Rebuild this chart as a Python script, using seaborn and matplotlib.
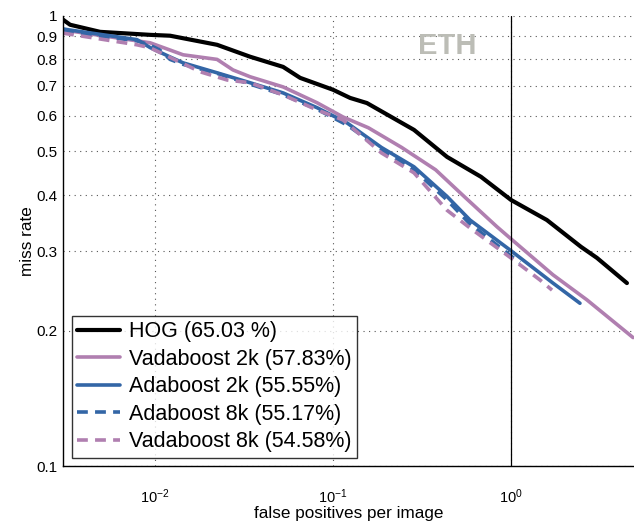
import numpy as np
import pandas as pd
import matplotlib
matplotlib.use('Agg')
import matplotlib.pyplot as plt
import seaborn as sns
from matplotlib.ticker import FixedLocator, FixedFormatter, LogLocator, NullFormatter

# miss rate vs false positives per image
hog_fppi = [0.00304, 0.00333, 0.00491, 0.00937, 0.01214, 0.0223, 0.0342, 0.0524, 0.0653,
            0.100, 0.1247, 0.155, 0.285, 0.437, 0.678, 1.00, 1.59, 2.47, 3.04, 4.48]
hog_miss = [0.98, 0.955, 0.921, 0.907, 0.903, 0.862, 0.811, 0.77, 0.728,
            0.685, 0.657, 0.64, 0.558, 0.486, 0.439, 0.39, 0.352, 0.307, 0.29, 0.255]

vada2_fppi = [0.00304, 0.00937, 0.01437, 0.0223, 0.0274, 0.0342, 0.0524, 0.0813, 0.1138,
              0.158, 0.243, 0.377, 0.545, 0.834, 0.987, 1.72, 2.67, 4.85]
vada2_miss = [0.93, 0.871, 0.819, 0.80, 0.758, 0.732, 0.695, 0.641, 0.596,
              0.564, 0.51, 0.455, 0.397, 0.34, 0.321, 0.266, 0.234, 0.193]

ada2_fppi = [0.00304, 0.00330, 0.00791, 0.00937, 0.01214, 0.01437, 0.0223, 0.0342, 0.0524,
             0.0813, 0.120, 0.187, 0.285, 0.437, 0.588, 0.987, 1.72, 2.44]
ada2_miss = [0.935, 0.93, 0.885, 0.85, 0.81, 0.786, 0.747, 0.71, 0.674,
             0.625, 0.578, 0.51, 0.462, 0.397, 0.352, 0.302, 0.255, 0.23]

ada8_fppi = [0.00304, 0.00330, 0.00791, 0.00937, 0.0106, 0.01214, 0.01437, 0.0223, 0.0342,
             0.0524, 0.0813, 0.120, 0.187, 0.285, 0.437, 0.588, 0.987, 1.12]
ada8_miss = [0.925, 0.92, 0.88, 0.86, 0.84, 0.80, 0.78, 0.745, 0.705,
             0.668, 0.62, 0.572, 0.505, 0.455, 0.39, 0.345, 0.294, 0.283]

vada8_fppi = [0.00304, 0.00791, 0.00937, 0.0179, 0.0254, 0.0342, 0.0524, 0.0813, 0.1138,
              0.187, 0.285, 0.437, 0.588, 0.987, 1.456, 1.70]
vada8_miss = [0.915, 0.862, 0.849, 0.751, 0.72, 0.71, 0.667, 0.618, 0.587,
              0.496, 0.448, 0.37, 0.338, 0.291, 0.259, 0.246]

labels = ['HOG (65.03 %)', 'Vadaboost 2k (57.83%)', 'Adaboost 2k (55.55%)',
          'Adaboost 8k (55.17%)', 'Vadaboost 8k (54.58%)']

black = '#000000'
purple = '#b07fb0'
blue = '#3366a6'

sns.set_style('white')
plt.rcParams['font.family'] = ['Liberation Sans', 'DejaVu Sans']
plt.rcParams['mathtext.fontset'] = 'custom'
plt.rcParams['mathtext.rm'] = 'Liberation Sans'
plt.rcParams['text.color'] = 'black'
plt.rcParams['axes.labelcolor'] = 'black'

fig, ax = plt.subplots(figsize=(6.34, 5.25), dpi=100)
fig.subplots_adjust(left=0.0995, right=1.0, top=0.97, bottom=0.112)

series = [
    (hog_fppi, hog_miss, black, '-', 3.0),
    (vada2_fppi, vada2_miss, purple, '-', 2.6),
    (ada2_fppi, ada2_miss, blue, '-', 2.6),
    (ada8_fppi, ada8_miss, blue, (0, (3, 2)), 2.6),
    (vada8_fppi, vada8_miss, purple, (0, (3, 2)), 2.6),
]
for (xs, ys, c, ls, lw), lab in zip(series, labels):
    df = pd.DataFrame({'fppi': xs, 'miss': ys})
    sns.lineplot(data=df, x='fppi', y='miss', ax=ax, color=c, linestyle=ls,
                 linewidth=lw, label=lab, sort=False, estimator=None)

ax.set_xscale('log')
ax.set_yscale('log')
ax.set_xlim(10 ** -2.517, 10 ** 0.691)
ax.set_ylim(0.1, 1.0)

yt = [0.1, 0.2, 0.3, 0.4, 0.5, 0.6, 0.7, 0.8, 0.9, 1.0]
ax.yaxis.set_major_locator(FixedLocator(yt))
ax.yaxis.set_major_formatter(FixedFormatter(['0.1', '0.2', '0.3', '0.4', '0.5',
                                             '0.6', '0.7', '0.8', '0.9', '1']))
ax.yaxis.set_minor_locator(FixedLocator([]))
ax.xaxis.set_major_locator(LogLocator(base=10))
ax.xaxis.set_minor_locator(LogLocator(base=10, subs=np.arange(2, 10)))
ax.xaxis.set_minor_formatter(NullFormatter())

ax.grid(True, which='major', linestyle=(0, (1, 4)), color='#555555', linewidth=0.8)
ax.axvline(1.0, color='black', linewidth=0.9)

ax.tick_params(axis='both', which='major', direction='in', length=5, width=0.8,
               colors='black')
ax.tick_params(axis='y', which='major', labelsize=11, pad=4)
ax.tick_params(axis='x', which='major', labelsize=10.5, pad=15)
ax.tick_params(axis='x', which='minor', direction='in', length=3, width=0.6)
for s in ['top', 'right']:
    ax.spines[s].set_visible(False)
for s in ['left', 'bottom']:
    ax.spines[s].set_color('black')
    ax.spines[s].set_linewidth(1.0)

ax.set_xlabel('false positives per image', fontsize=12.3, labelpad=0)
ax.set_ylabel('miss rate', fontsize=12.3, labelpad=1)

ax.text(0.437, 0.858, 'ETH', fontsize=21, fontweight='bold', color='#bcbdb6',
        ha='center', va='center')

leg = ax.legend(loc='lower left', fontsize=15.5, frameon=True, fancybox=False,
                handlelength=2.0, handletextpad=0.4, labelspacing=0.3,
                borderpad=0.25, borderaxespad=0.4)
leg.get_frame().set_edgecolor('black')
leg.get_frame().set_linewidth(1.0)
for t in leg.get_texts():
    t.set_color('black')

fig.savefig('out.png', dpi=100)
